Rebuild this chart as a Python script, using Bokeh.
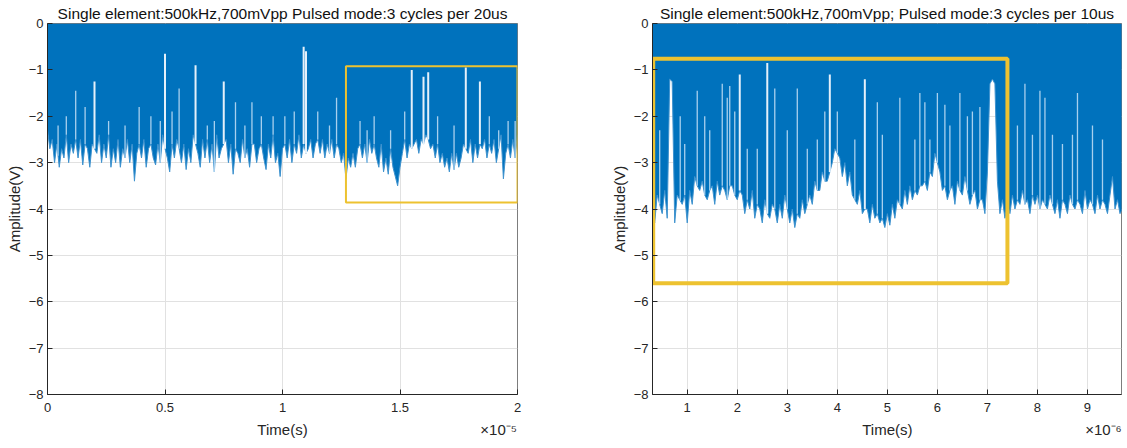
import numpy as np
from bokeh.plotting import figure
from bokeh.layouts import row
from bokeh.models import FixedTicker, Title, ColumnDataSource, Range1d, LinearAxis
from bokeh.embed import file_html
from bokeh.resources import INLINE

# ---------------- data ----------------
titles = ["Single element:500kHz,700mVpp Pulsed mode:3 cycles per 20us",
          "Single element:500kHz,700mVpp; Pulsed mode:3 cycles per 10us"]
y_label = "Amplitude(V)"
x_label = "Time(s)"

# left trace: lower envelope of the pulsed signal (V), one value per 0.1 us, 0 .. 20 us
left_t0 = 0.0
left_dt = 0.1e-6
left_env = [
    -2.3, -2.7, -2.5, -3.0, -2.6, -3.1, -2.7, -2.9, -2.4, -3.0,
    -2.6, -2.8, -2.5, -2.9, -2.5, -3.05, -2.6, -2.7, -3.1, -2.6,
    -2.7, -2.8, -2.4, -3.0, -2.6, -2.9, -2.4, -3.1, -2.7, -3.0,
    -2.5, -3.1, -2.7, -2.9, -2.5, -3.0, -2.6, -3.4, -2.8, -2.6,
    -2.9, -2.5, -3.1, -2.7, -2.6, -2.9, -3.05, -2.6, -3.0, -2.4,
    -2.7, -2.9, -3.2, -2.6, -2.9, -2.5, -2.7, -3.0, -2.6, -3.15,
    -2.7, -3.0, -2.4, -2.6, -2.8, -3.1, -2.5, -2.9, -2.5, -3.0,
    -2.6, -3.2, -2.4, -2.9, -2.7, -2.6, -2.5, -3.0, -2.6, -3.25,
    -2.7, -2.8, -3.0, -2.5, -2.9, -2.7, -3.1, -2.6, -2.6, -3.0,
    -2.7, -2.6, -2.9, -3.15, -2.6, -2.9, -2.4, -3.0, -2.8, -3.3,
    -2.7, -2.6, -2.9, -2.5, -3.0, -2.6, -2.8, -2.4, -2.9, -2.6,
    -2.8, -2.7, -2.5, -2.9, -2.6, -2.5, -2.8, -2.5, -2.9, -2.6,
    -2.8, -2.5, -2.9, -2.6, -2.7, -3.0, -2.8, -3.35, -2.9, -3.1,
    -2.8, -3.1, -2.7, -2.6, -2.9, -2.6, -3.0, -2.5, -2.8, -2.6,
    -2.9, -3.1, -2.6, -3.2, -2.9, -3.25, -2.7, -3.1, -3.3, -3.5,
    -3.1, -2.8, -2.5, -2.9, -2.6, -2.7, -2.6, -2.5, -2.8, -2.5,
    -2.6, -2.4, -2.5, -2.7, -2.6, -2.9, -2.6, -3.0, -2.8, -3.1,
    -2.9, -3.2, -2.8, -3.15, -2.8, -3.1, -2.9, -2.6, -2.7, -2.8,
    -2.5, -3.0, -2.6, -2.9, -2.6, -2.7, -2.5, -2.9, -2.6, -2.8,
    -2.5, -3.0, -2.7, -2.4, -3.35, -2.8, -2.6, -2.9, -2.5, -2.9, -2.4,
]
# narrow upward excursions of the left trace: time (us), peak (V)
left_spike_t = [0.45, 0.8, 1.2, 1.6, 2.0, 2.6, 3.3, 3.9, 4.4, 4.8, 5.0, 5.3, 5.6,
                6.3, 6.8, 7.1, 7.5, 8.0, 8.4, 8.7, 9.1, 9.6, 10.1, 10.5, 10.9, 11.0,
                11.5, 12.0, 12.3, 13.3, 13.6, 13.9, 14.6, 15.2, 15.5, 16.0, 16.2,
                16.6, 17.3, 17.8, 18.4, 18.8, 19.2, 19.6, 19.9]
left_spike_v = [-2.2, -2.0, -1.45, -1.8, -1.25, -2.1, -2.2, -1.8, -2.0, -2.1, -0.65,
                -1.9, -1.4, -0.9, -2.2, -2.1, -1.25, -1.7, -2.2, -1.7, -2.0, -2.0,
                -2.0, -1.9, -0.5, -0.6, -1.9, -2.2, -1.6, -2.1, -2.3, -2.0, -2.3,
                -1.9, -1.0, -1.15, -1.05, -2.0, -2.2, -0.95, -1.25, -2.0, -2.3,
                -2.1, -2.1]

# right trace: lower envelope (V), one value per 0.05 us, 0.30 .. 9.70 us
right_t0 = 0.30e-6
right_dt = 0.05e-6
right_env = [
    -3.9, -4.3, -3.7, -3.9, -4.1, -3.6, -4.2, -1.2, -1.25, -4.3,
    -3.7, -3.8, -3.9, -3.7, -4.3, -3.6, -3.9, -3.3, -3.5, -3.6,
    -3.4, -3.7, -3.8, -3.6, -3.5, -3.9, -3.4, -3.7, -3.5, -3.6,
    -3.8, -3.5, -3.5, -3.7, -3.8, -3.6, -3.7, -4.1, -3.8, -4.0,
    -3.6, -4.2, -3.9, -4.0, -4.3, -3.8, -4.1, -4.2, -3.9, -4.0,
    -4.3, -3.9, -4.2, -3.7, -4.0, -4.3, -4.0, -4.4, -4.1, -4.2,
    -3.8, -4.1, -3.9, -3.7, -3.9, -3.4, -3.6, -3.6, -3.2, -3.4,
    -3.4, -3.2, -3.0, -2.7, -2.8, -2.9, -3.3, -3.0, -3.5, -3.2,
    -3.7, -3.8, -3.9, -3.6, -4.1, -4.0, -4.0, -4.3, -3.9, -4.2,
    -4.1, -4.3, -4.2, -4.4, -4.1, -4.35, -3.9, -4.2, -3.8, -3.9,
    -4.0, -3.6, -3.9, -3.5, -3.8, -3.6, -3.7, -3.5, -3.5, -3.4,
    -3.6, -3.2, -3.3, -2.8, -3.0, -3.2, -3.6, -3.5, -3.8, -3.6,
    -3.5, -3.9, -3.4, -3.6, -3.7, -3.3, -3.6, -3.9, -3.7, -3.6,
    -4.0, -3.8, -3.8, -4.1, -3.2, -1.3, -1.2, -1.3, -3.4, -4.1,
    -3.8, -4.2, -3.9, -4.1, -3.7, -4.0, -3.8, -3.9, -3.6, -3.9,
    -3.8, -4.1, -3.7, -3.9, -3.7, -4.0, -3.8, -3.9, -4.0, -3.7,
    -3.9, -4.1, -3.8, -4.2, -3.8, -3.9, -4.1, -3.7, -3.9, -4.0,
    -3.8, -3.9, -4.1, -3.6, -4.0, -3.8, -3.9, -4.1, -3.7, -4.0,
    -3.8, -3.9, -4.1, -3.7, -3.3, -4.0, -3.8, -4.1, -4.0,
]
# narrow upward excursions of the right trace: time (us), peak (V)
right_spike_t = [0.45, 0.86, 0.95, 1.2, 1.35, 1.45, 1.7, 1.8, 1.85, 1.95, 2.05,
                 2.2, 2.4, 2.6, 2.75, 3.0, 3.2, 3.4, 3.6, 3.75, 3.85, 4.0, 4.35,
                 4.55, 4.8, 4.9, 5.25, 5.55, 5.65, 5.75, 5.85, 6.0, 6.15, 6.25,
                 6.45, 6.6, 6.7, 6.85, 7.6, 7.75, 7.9, 8.05, 8.15, 8.3, 8.5, 8.7,
                 8.8, 9.1, 9.3]
right_spike_v = [-2.3, -2.0, -2.6, -1.45, -2.0, -2.3, -1.3, -1.6, -1.35, -1.9, -1.1,
                 -2.7, -2.7, -0.85, -1.4, -2.3, -1.4, -2.7, -2.5, -1.9, -1.1, -1.9,
                 -2.5, -1.2, -1.7, -2.4, -1.6, -2.5, -1.5, -1.7, -2.5, -1.5, -1.75,
                 -2.2, -1.5, -2.0, -1.9, -1.8, -2.2, -1.3, -2.4, -1.45, -1.6, -2.4,
                 -2.6, -2.4, -1.5, -2.2, -2.5]

# highlight boxes (seconds, volts)
left_box = dict(left=1.27e-5, right=2.0e-5, top=-0.92, bottom=-3.86)
right_box = dict(left=0.32e-6, right=7.40e-6, top=-0.76, bottom=-5.60)

# axes (x shown in units of the exponent factor)
left_xrange = (0.0, 2.0e-5)
right_xrange = (0.306e-6, 9.68e-6)
left_xscale, left_exp = 1e-5, "\u00d710\u207b\u2075"
right_xscale, right_exp = 1e-6, "\u00d710\u207b\u2076"
left_xticks = [0, 0.5, 1, 1.5, 2]
right_xticks = [1, 2, 3, 4, 5, 6, 7, 8, 9]
left_label_at = (1.0, 1.92)     # where "Time(s)" and the exponent sit on the x scale
right_label_at = (5.0, 9.32)
y_ticks = [0, -1, -2, -3, -4, -5, -6, -7, -8]
y_range = (-8, 0)

# ---------------- style ----------------
FONT = "Liberation Sans"
AX = "#262626"
BLUE = "#0072BD"
EDGE = "#3E92CE"
SPIKE = "#A8D0EE"
YELLOW = "#EDC230"
GRID = "#E1E1E1"
H = 448
FRAME_TOP = 23
FRAME_BOTTOM = 394


def style_axis(ax):
    ax.axis_line_color = AX
    ax.major_tick_line_color = AX
    ax.major_tick_in = 5
    ax.major_tick_out = 0
    ax.minor_tick_line_color = None
    ax.major_label_text_font = FONT
    ax.major_label_text_font_size = "13px"
    ax.major_label_text_color = AX
    ax.axis_label_text_font = FONT
    ax.axis_label_text_font_size = "15px"
    ax.axis_label_text_font_style = "normal"
    ax.axis_label_text_color = AX


def panel(title, t0, dt, env, spike_t_us, spike_v, xrange_, xscale, exp_text, xticks,
          label_at, box, box_w, width, mbl, mbr):
    p = figure(width=width, height=H, title=None,
               x_range=Range1d(xrange_[0] / xscale, xrange_[1] / xscale),
               y_range=Range1d(*y_range),
               output_backend="svg", toolbar_location=None,
               min_border_left=mbl, min_border_right=mbr,
               min_border_top=FRAME_TOP, min_border_bottom=H - FRAME_BOTTOM)
    p.background_fill_color = "white"
    p.border_fill_color = "white"
    p.outline_line_color = AX
    p.outline_line_alpha = 0.6

    t = np.array([t0 + i * dt for i in range(len(env))])
    x = t / xscale
    src = ColumnDataSource(dict(x=x, y=env))
    p.varea(x="x", y1="y", y2=0, source=src, fill_color=BLUE)
    p.line(x="x", y="y", source=src, line_color=EDGE, line_width=1)

    sx = np.array(spike_t_us) * 1e-6 / xscale
    sv = np.array(spike_v)
    base = np.interp(sx, x, env)
    widths = np.where(sv > -1.3, 2.0, 1.3)
    colors = ["#E4F0FA" if v > -1.3 else SPIKE for v in sv]
    ssrc = ColumnDataSource(dict(x=sx, y0=base, y1=sv, w=widths, c=colors))
    p.segment(x0="x", y0="y0", x1="x", y1="y1", source=ssrc,
              line_color="c", line_width="w")

    p.quad(left=[box["left"] / xscale], right=[box["right"] / xscale],
           top=[box["top"]], bottom=[box["bottom"]],
           fill_color=None, line_color=YELLOW, line_width=box_w)

    p.xaxis.ticker = FixedTicker(ticks=xticks)
    p.xaxis.major_label_overrides = {k: f"{k:g}" for k in xticks}
    p.yaxis.ticker = FixedTicker(ticks=y_ticks)
    p.yaxis.axis_label = y_label
    for ax in (p.xaxis[0], p.yaxis[0]):
        style_axis(ax)
    p.xaxis.major_label_standoff = 8
    p.yaxis.major_label_standoff = 4
    p.yaxis.axis_label_standoff = 3

    # second row under the x tick labels: axis name and exponent factor
    tc, te = label_at
    ax2 = LinearAxis(ticker=FixedTicker(ticks=[tc, te]),
                     major_label_overrides={tc: x_label, te: exp_text},
                     axis_line_color=None, major_tick_line_color=None,
                     minor_tick_line_color=None, major_tick_in=0, major_tick_out=0,
                     major_label_standoff=6, major_label_text_font=FONT,
                     major_label_text_font_size="15px", major_label_text_color=AX)
    p.add_layout(ax2, "below")

    p.xgrid.ticker = FixedTicker(ticks=xticks)
    p.ygrid.ticker = FixedTicker(ticks=y_ticks)
    for g in (p.xgrid[0], p.ygrid[0]):
        g.grid_line_color = GRID
        g.grid_line_width = 1

    # title above the frame
    p.add_layout(Title(text=title, align="center", standoff=4,
                       text_font=FONT, text_font_size="15.5px",
                       text_font_style="normal", text_color="#111111"), "above")
    return p


p1 = panel(titles[0], left_t0, left_dt, left_env, left_spike_t, left_spike_v,
           left_xrange, left_xscale, left_exp, left_xticks, left_label_at, left_box, 2,
           width=560, mbl=47, mbr=43)
p2 = panel(titles[1], right_t0, right_dt, right_env, right_spike_t, right_spike_v,
           right_xrange, right_xscale, right_exp, right_xticks, right_label_at, right_box, 4,
           width=567, mbl=92, mbr=6)

layout = row(p1, p2)
open("out.html", "w").write(file_html(layout, INLINE))
